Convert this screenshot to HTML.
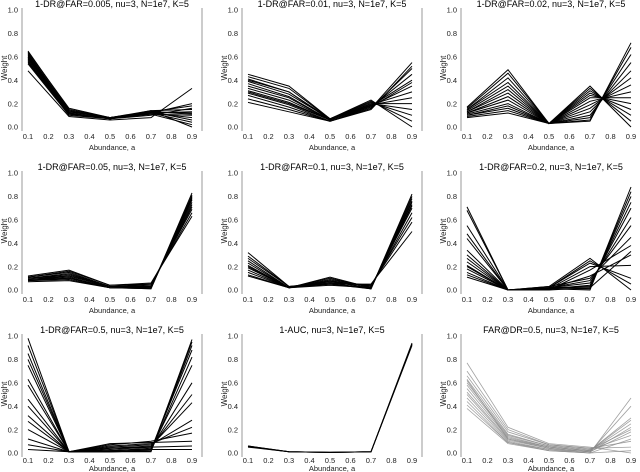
<!DOCTYPE html>
<html><head><meta charset="utf-8"><style>
html,body{margin:0;padding:0;background:#fff;}
svg{display:block;font-family:"Liberation Sans","DejaVu Sans",sans-serif;}
</style></head>
<body>
<svg id="fig" width="640" height="472" viewBox="0 0 640 472" xmlns="http://www.w3.org/2000/svg"></svg>
<script>
const abundance = [0.1,0.3,0.5,0.7,0.9];
const xTicks = [0.1,0.2,0.3,0.4,0.5,0.6,0.7,0.8,0.9];
const yTicks = [0.0,0.2,0.4,0.6,0.8,1.0];
const titles = [
 "1-DR@FAR=0.005, nu=3, N=1e7, K=5","1-DR@FAR=0.01, nu=3, N=1e7, K=5","1-DR@FAR=0.02, nu=3, N=1e7, K=5",
 "1-DR@FAR=0.05, nu=3, N=1e7, K=5","1-DR@FAR=0.1, nu=3, N=1e7, K=5","1-DR@FAR=0.2, nu=3, N=1e7, K=5",
 "1-DR@FAR=0.5, nu=3, N=1e7, K=5","1-AUC, nu=3, N=1e7, K=5","FAR@DR=0.5, nu=3, N=1e7, K=5"];
const p1 = [[0.65,0.15,0.08,0.12,0.20],[0.63,0.14,0.08,0.13,0.18],[0.62,0.14,0.07,0.14,0.15],[0.60,0.13,0.08,0.12,0.13],[0.59,0.12,0.07,0.13,0.11],[0.58,0.13,0.08,0.11,0.10],[0.57,0.12,0.07,0.12,0.08],[0.56,0.11,0.08,0.13,0.06],[0.55,0.11,0.07,0.12,0.04],[0.54,0.10,0.07,0.11,0.02],[0.48,0.09,0.06,0.08,0.33],[0.61,0.13,0.08,0.14,0.0],[0.64,0.16,0.08,0.13,0.12],[0.60,0.12,0.07,0.10,0.16]];
const p2 = [[0.45,0.35,0.07,0.22,0.05],[0.43,0.33,0.07,0.21,0.10],[0.41,0.30,0.06,0.20,0.15],[0.39,0.28,0.07,0.20,0.20],[0.37,0.26,0.06,0.19,0.25],[0.35,0.25,0.06,0.19,0.30],[0.33,0.23,0.06,0.18,0.35],[0.31,0.21,0.06,0.18,0.40],[0.29,0.19,0.05,0.17,0.45],[0.27,0.17,0.05,0.16,0.50],[0.24,0.15,0.05,0.16,0.55],[0.21,0.13,0.05,0.15,0.52],[0.40,0.30,0.07,0.23,0.0],[0.30,0.20,0.06,0.17,0.38]];
const p3 = [[0.17,0.49,0.03,0.35,0.0],[0.16,0.46,0.03,0.33,0.05],[0.15,0.42,0.03,0.31,0.10],[0.15,0.38,0.03,0.29,0.15],[0.14,0.35,0.03,0.27,0.20],[0.13,0.32,0.03,0.25,0.25],[0.13,0.29,0.03,0.22,0.30],[0.12,0.26,0.03,0.19,0.36],[0.12,0.23,0.03,0.16,0.42],[0.11,0.20,0.03,0.13,0.48],[0.10,0.18,0.03,0.10,0.55],[0.10,0.16,0.03,0.08,0.62],[0.09,0.14,0.03,0.06,0.68],[0.08,0.12,0.03,0.05,0.72]];
const p4 = [[0.12,0.17,0.04,0.06,0.63],[0.11,0.16,0.04,0.05,0.66],[0.11,0.15,0.03,0.05,0.69],[0.10,0.14,0.03,0.04,0.71],[0.10,0.13,0.03,0.03,0.73],[0.09,0.12,0.03,0.03,0.75],[0.09,0.11,0.02,0.02,0.77],[0.08,0.10,0.02,0.02,0.79],[0.08,0.09,0.02,0.01,0.81],[0.07,0.08,0.02,0.01,0.83],[0.10,0.12,0.03,0.02,0.78],[0.09,0.10,0.03,0.02,0.80]];
const p5 = [[0.32,0.03,0.05,0.05,0.50],[0.29,0.03,0.06,0.04,0.58],[0.27,0.03,0.07,0.04,0.62],[0.25,0.02,0.08,0.03,0.66],[0.23,0.02,0.09,0.03,0.70],[0.21,0.02,0.10,0.02,0.73],[0.19,0.02,0.11,0.02,0.76],[0.17,0.02,0.08,0.01,0.78],[0.15,0.02,0.06,0.01,0.80],[0.13,0.02,0.05,0.01,0.82],[0.12,0.02,0.04,0.02,0.75],[0.20,0.02,0.07,0.02,0.72]];
const p6 = [[0.71,0.0,0.01,0.0,0.88],[0.68,0.0,0.01,0.01,0.84],[0.55,0.0,0.02,0.02,0.80],[0.48,0.0,0.02,0.03,0.75],[0.44,0.0,0.01,0.04,0.70],[0.34,0.0,0.02,0.06,0.62],[0.30,0.0,0.02,0.08,0.55],[0.27,0.0,0.03,0.10,0.45],[0.24,0.0,0.03,0.27,0.0],[0.21,0.0,0.02,0.25,0.05],[0.18,0.0,0.02,0.23,0.10],[0.15,0.0,0.01,0.20,0.21],[0.11,0.0,0.0,0.17,0.38],[0.13,0.0,0.0,0.02,0.33],[0.20,0.0,0.01,0.12,0.30]];
const p7 = [[0.98,0.01,0.01,0.01,0.97],[0.92,0.01,0.01,0.02,0.95],[0.85,0.01,0.01,0.02,0.92],[0.80,0.01,0.02,0.03,0.88],[0.75,0.01,0.01,0.02,0.82],[0.63,0.01,0.02,0.03,0.75],[0.58,0.01,0.02,0.04,0.60],[0.46,0.01,0.03,0.05,0.50],[0.40,0.01,0.04,0.06,0.43],[0.32,0.01,0.05,0.07,0.28],[0.27,0.01,0.06,0.08,0.22],[0.20,0.01,0.07,0.10,0.17],[0.12,0.01,0.08,0.09,0.10],[0.07,0.01,0.04,0.05,0.06],[0.03,0.01,0.02,0.03,0.03]];
const p8 = [[0.06,0.01,0.005,0.01,0.93],[0.055,0.01,0.005,0.01,0.92],[0.05,0.01,0.005,0.01,0.94],[0.06,0.01,0.005,0.01,0.93]];
const p9 = [[0.77,0.22,0.08,0.05,0.0],[0.70,0.20,0.07,0.04,0.05],[0.66,0.18,0.07,0.04,0.10],[0.63,0.16,0.06,0.03,0.15],[0.60,0.15,0.06,0.03,0.20],[0.58,0.14,0.05,0.02,0.25],[0.55,0.13,0.05,0.02,0.30],[0.52,0.12,0.04,0.01,0.22],[0.50,0.11,0.04,0.01,0.18],[0.47,0.10,0.03,0.01,0.40],[0.44,0.09,0.03,0.0,0.47],[0.41,0.09,0.02,0.0,0.12],[0.38,0.08,0.02,0.0,0.02],[0.62,0.12,0.05,0.02,0.28]];
const panels = [p1,p2,p3,p4,p5,p6,p7,p8,p9];

const NS="http://www.w3.org/2000/svg";
const fig=document.getElementById('fig');
function mk(tag,attrs,parent){const e=document.createElementNS(NS,tag);for(const k in attrs)e.setAttribute(k,attrs[k]);parent.appendChild(e);return e;}
const colOff=[0,220,439], rowOff=[0,163,326];
const xTickY=[139,139,137];
const xTitleY=[150,150,145];
panels.forEach((lines,pi)=>{
  const ox=colOff[pi%3], row=Math.floor(pi/3), oy=rowOff[row];
  const g=mk('g',{},fig);
  
  
  const xS=v=>ox+28+(v-0.1)/0.8*164;
  const yS=v=>oy+127-v*117;
  const l=mk('line',{x1:ox+22,x2:ox+22,y1:oy+8,y2:oy+131,stroke:'#999','stroke-width':1},g);
  
  
  const r=mk('line',{x1:ox+202,x2:ox+202,y1:oy+8,y2:oy+131,stroke:'#999','stroke-width':1},g);
  
  
  const t=mk('text',{x:ox+112,y:oy+7,'font-size':9,'text-anchor':'middle',fill:'#000'},g);
  t.textContent=titles[pi];
  
  
  yTicks.forEach(v=>{
    const tt=mk('text',{x:ox+18,y:yS(v)+2.7,'font-size':7.5,'text-anchor':'end',fill:'#222'},g);
    tt.textContent=v.toFixed(1);
    
    
  });
  xTicks.forEach(v=>{
    const tt=mk('text',{x:xS(v),y:oy+xTickY[row],'font-size':7.5,'text-anchor':'middle',fill:'#222'},g);
    tt.textContent=v.toFixed(1);
    
    
  });
  const xl=mk('text',{x:ox+112,y:oy+xTitleY[row],'font-size':7.5,'text-anchor':'middle',fill:'#222'},g);
  xl.textContent='Abundance, a';
  
  
  const yl=mk('text',{x:0,y:0,'font-size':8,'text-anchor':'middle',fill:'#222',transform:`translate(${ox+7},${oy+68}) rotate(-90)`},g);
  yl.textContent='Weight';
  
  
  const gray=pi===8;
  lines.forEach((vals,li)=>{
    const pts=vals.map((v,i)=>xS(abundance[i]).toFixed(1)+','+yS(v).toFixed(1)).join(' ');
    const p=mk('polyline',{points:pts,fill:'none',stroke:gray?'#8a8a8a':'#000','stroke-width':gray?0.8:1.0,'stroke-opacity':gray?0.8:1},g);
    
    
  });
});
</script>
</body></html>
